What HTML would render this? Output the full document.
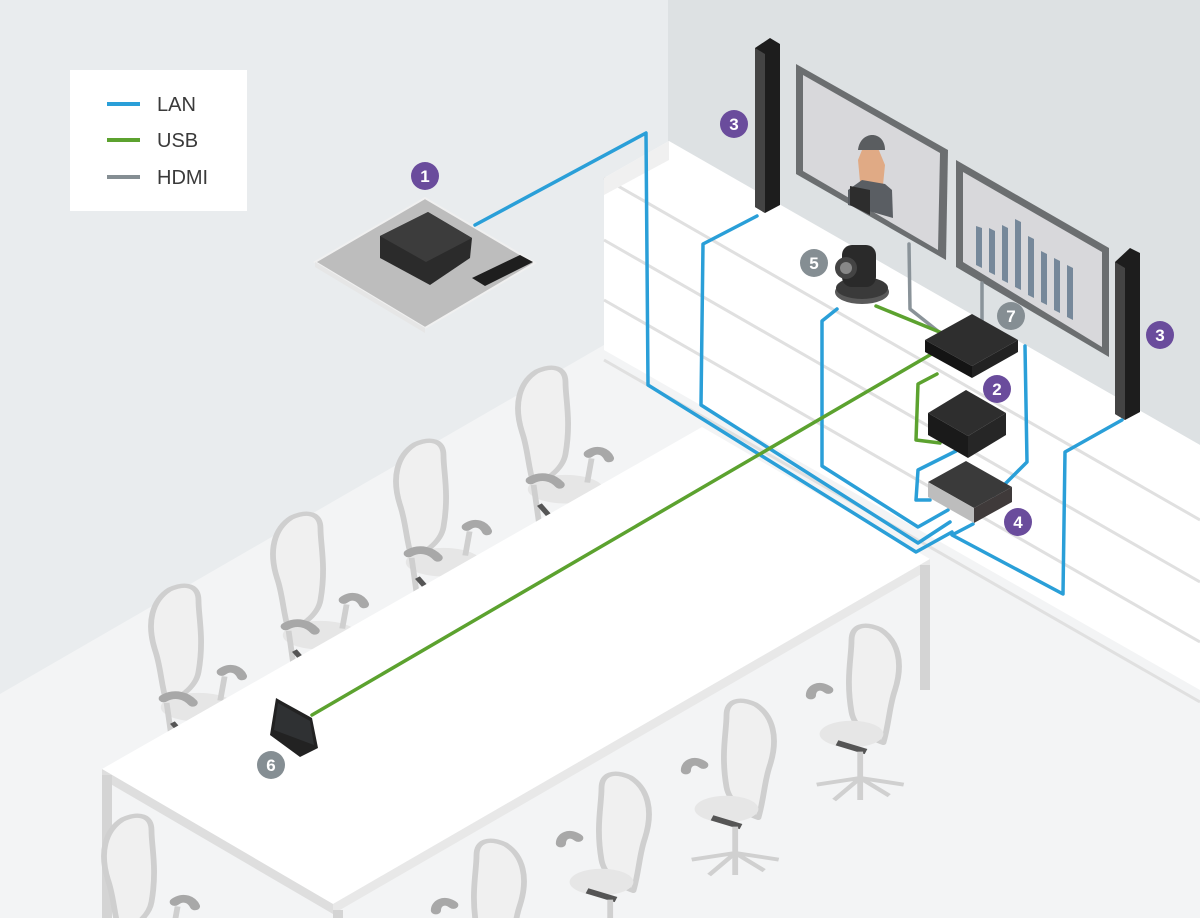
<!DOCTYPE html>
<html><head><meta charset="utf-8"><style>
html,body{margin:0;padding:0;width:1200px;height:918px;overflow:hidden;background:#e9ecee}
svg{display:block;overflow:hidden}
text{font-family:"Liberation Sans",sans-serif}
</style></head><body>
<svg width="1200" height="918" viewBox="0 0 1200 918" xmlns="http://www.w3.org/2000/svg">
<defs>
<g id="chair">
  <path d="M0,0 C-6,-25 -2,-45 10,-55 C22,-62 30,-58 30,-45 C30,-30 34,-10 30,20 C28,35 15,45 8,48 C4,30 4,15 0,0Z" fill="#f0f0f0" stroke="#cfcfcf" stroke-width="4" stroke-linejoin="round"/>
  <ellipse cx="30" cy="52" rx="26" ry="13" fill="#e6e6e6"/>
  <path d="M8,48 L12,85" stroke="#cfcfcf" stroke-width="4"/>
  <path d="M12,66 L20,78" stroke="#555" stroke-width="4"/>
  <path d="M46,20 C52,14 58,18 60,24" stroke="#a8a8a8" stroke-width="7" fill="none" stroke-linecap="round"/>
  <path d="M48,24 L45,46" stroke="#cfcfcf" stroke-width="4"/>
  <path d="M6,44 C14,38 22,42 26,48" stroke="#a8a8a8" stroke-width="7" fill="none" stroke-linecap="round"/>
</g>
<g id="chairF">
  <path d="M0,0 C6,-25 2,-45 -10,-55 C-22,-62 -30,-58 -30,-45 C-30,-30 -34,-10 -30,20 C-28,35 -15,45 -8,48 C-4,30 -4,15 0,0Z" fill="#f0f0f0" stroke="#cfcfcf" stroke-width="4" stroke-linejoin="round"/>
  <ellipse cx="-30" cy="40" rx="22" ry="12" fill="#e6e6e6"/>
  <path d="M-40,48 L-20,56" stroke="#555" stroke-width="5"/>
  <path d="M-46,0 C-52,-6 -58,-2 -58,5" stroke="#a8a8a8" stroke-width="7" fill="none" stroke-linecap="round"/>
  <path d="M-24,56 L-24,100" stroke="#d0d0d0" stroke-width="4"/>
  <path d="M-54,86 L-24,80 L6,86 M-24,80 L-42,100 M-24,80 L-4,96" stroke="#d0d0d0" stroke-width="3.5" fill="none"/>
</g>
</defs>
<rect x="668" y="0" width="532" height="918" fill="#dde1e3"/>
<polygon points="0,694 668,308 668,141 1200,445 1200,918 0,918" fill="#f3f4f5"/>
<polygon points="604,178 669,141 1200,445 1200,690 604,350" fill="#ffffff"/>
<g stroke="#e0e0e0" stroke-width="3" fill="none">
<line x1="604" y1="178" x2="1200" y2="520"/>
<line x1="604" y1="240" x2="1200" y2="582"/>
<line x1="604" y1="300" x2="1200" y2="642"/>
<line x1="604" y1="360" x2="1200" y2="702"/>
</g>
<polygon points="604,178 669,141 669,160 604,195" fill="#f0f0f0"/>
<use href="#chair" transform="translate(155,650) scale(1.45,1.1)"/>
<use href="#chair" transform="translate(277,578) scale(1.45,1.1)"/>
<use href="#chair" transform="translate(400,505) scale(1.45,1.1)"/>
<use href="#chair" transform="translate(522,432) scale(1.45,1.1)"/>
<polygon points="102,769 702,427 930,559 333,904" fill="#ffffff"/>
<polygon points="102,769 333,904 333,914 102,779" fill="#dedede"/>
<polygon points="333,904 930,559 930,569 333,914" fill="#e8e8e8"/>
<rect x="102" y="775" width="10" height="143" fill="#d4d4d4"/>
<rect x="333" y="910" width="10" height="8" fill="#d4d4d4"/>
<rect x="920" y="565" width="10" height="125" fill="#d4d4d4"/>
<use href="#chairF" transform="translate(895,690) scale(1.45,1.1)"/>
<use href="#chairF" transform="translate(770,765) scale(1.45,1.1)"/>
<use href="#chairF" transform="translate(645,838) scale(1.45,1.1)"/>
<use href="#chairF" transform="translate(520,905) scale(1.45,1.1)"/>
<use href="#chair" transform="translate(108,880) scale(1.45,1.1)"/>
<polygon points="315,262 425,198 535,263 425,328" fill="#bdbdbd" stroke="#f0f0f0" stroke-width="2"/>
<polygon points="315,262 425,328 425,333 315,267" fill="#e6e6e6"/>
<polygon points="472,278 520,255 533,262 485,286" fill="#1e1e1e"/>
<polygon points="380,236 428,212 472,238 470,258 430,285 380,258" fill="#2b2b2b"/>
<polygon points="380,236 428,212 472,238 426,262" fill="#3c3c3c"/>
<polygon points="755,48 770,38 780,44 780,205 765,213 755,207" fill="#1d1d1d"/>
<polygon points="755,48 765,54 765,213 755,207" fill="#444"/>
<polygon points="1115,262 1130,248 1140,253 1140,412 1125,420 1115,414" fill="#1d1d1d"/>
<polygon points="1115,262 1125,268 1125,420 1115,414" fill="#444"/>
<polygon points="796,64 948,150 946,260 796,174" fill="#6b6e70"/>
<polygon points="803,75 940,153 938,250 803,171" fill="#d8d8db"/>
<polygon points="862,150 878,148 885,165 883,185 860,182 858,160" fill="#e0aa85"/>
<path d="M858,150 C860,130 885,130 885,150 Z" fill="#5a5d60"/>
<polygon points="848,190 862,180 885,184 892,190 893,218 848,205" fill="#5a5e63"/>
<polygon points="850,186 870,190 870,215 850,205" fill="#2d2d2d"/>
<polygon points="956,160 1109,248 1109,357 956,267" fill="#6b6e70"/>
<polygon points="963,172 1102,252 1102,347 963,262" fill="#d8d8db"/>
<g fill="#76889a">
<polygon points="976,226 982,228 982,268 976,265"/>
<polygon points="989,228 995,231 995,275 989,272"/>
<polygon points="1002,225 1008,228 1008,283 1002,280"/>
<polygon points="1015,219 1021,222 1021,290 1015,287"/>
<polygon points="1028,236 1034,239 1034,298 1028,295"/>
<polygon points="1041,251 1047,254 1047,305 1041,302"/>
<polygon points="1054,258 1060,261 1060,313 1054,310"/>
<polygon points="1067,265 1073,268 1073,320 1067,317"/>
</g>
<g fill="none" stroke-linejoin="round" stroke-linecap="round">
<polyline points="909,244 910,309 944,336" stroke="#8a9399" stroke-width="3.5"/>
<polyline points="982,283 982,330" stroke="#8a9399" stroke-width="3.5"/>
<g stroke="#2a9fd8" stroke-width="3.5">
<polyline points="475,225 646,133 648,385 916,552 952,532"/>
<polyline points="757,216 703,244 701,405 918,543 950,522"/>
<polyline points="837,309 822,321 822,466 918,527 948,510"/>
<polyline points="1025,346 1027,462 994,495"/>
<polyline points="956,451 918,470 916,500 930,500"/>
<polyline points="1122,420 1065,452 1063,594 952,535 973,524"/>
</g>
<g stroke="#5ca22f" stroke-width="3.5">
<polyline points="876,306 942,333"/>
<polyline points="312,715 935,352"/>
<polyline points="937,374 918,384 916,440 940,443"/>
</g>
</g>
<ellipse cx="862" cy="292" rx="27" ry="12" fill="#5a5a5a"/>
<ellipse cx="862" cy="288" rx="26" ry="11" fill="#3a3a3a"/>
<rect x="842" y="245" width="34" height="42" rx="10" fill="#2a2a2a"/>
<circle cx="846" cy="268" r="11" fill="#444"/><circle cx="846" cy="268" r="6" fill="#888"/>
<polygon points="925,340 972,314 1018,340 972,366" fill="#2e2e2e"/>
<polygon points="925,340 972,366 972,378 925,352" fill="#141414"/>
<polygon points="972,366 1018,340 1018,352 972,378" fill="#222"/>
<polygon points="928,413 966,390 1006,413 968,436" fill="#2e2e2e"/>
<polygon points="928,413 968,436 968,458 928,435" fill="#1a1a1a"/>
<polygon points="968,436 1006,413 1006,435 968,458" fill="#262626"/>
<polygon points="928,482 966,461 1012,487 974,508" fill="#3a3a3a"/>
<polygon points="928,482 974,508 974,523 928,497" fill="#bdbdbd"/>
<polygon points="974,508 1012,487 1012,502 974,523" fill="#3f3a3a"/>
<polygon points="276,698 283,702 312,718 318,748 300,757 270,735" fill="#222"/>
<polygon points="278,703 310,721 314,745 274,730" fill="#2f3133"/>
<g font-size="17" font-weight="bold" fill="#fff" text-anchor="middle">
<circle cx="425" cy="176" r="14" fill="#6a4c9c"/><text x="425" y="182">1</text>
<circle cx="734" cy="124" r="14" fill="#6a4c9c"/><text x="734" y="130">3</text>
<circle cx="1160" cy="335" r="14" fill="#6a4c9c"/><text x="1160" y="341">3</text>
<circle cx="997" cy="389" r="14" fill="#6a4c9c"/><text x="997" y="395">2</text>
<circle cx="1018" cy="522" r="14" fill="#6a4c9c"/><text x="1018" y="528">4</text>
<circle cx="814" cy="263" r="14" fill="#858e93"/><text x="814" y="269">5</text>
<circle cx="1011" cy="316" r="14" fill="#858e93"/><text x="1011" y="322">7</text>
<circle cx="271" cy="765" r="14" fill="#858e93"/><text x="271" y="771">6</text>
</g>
<rect x="70" y="70" width="177" height="141" fill="#ffffff"/>
<g stroke-width="4">
<line x1="107" y1="104" x2="140" y2="104" stroke="#2a9fd8"/>
<line x1="107" y1="140" x2="140" y2="140" stroke="#5ca22f"/>
<line x1="107" y1="177" x2="140" y2="177" stroke="#858e93"/>
</g>
<g font-size="20" fill="#3a3a3a">
<text x="157" y="111">LAN</text>
<text x="157" y="147">USB</text>
<text x="157" y="184">HDMI</text>
</g>
</svg>
</body></html>
